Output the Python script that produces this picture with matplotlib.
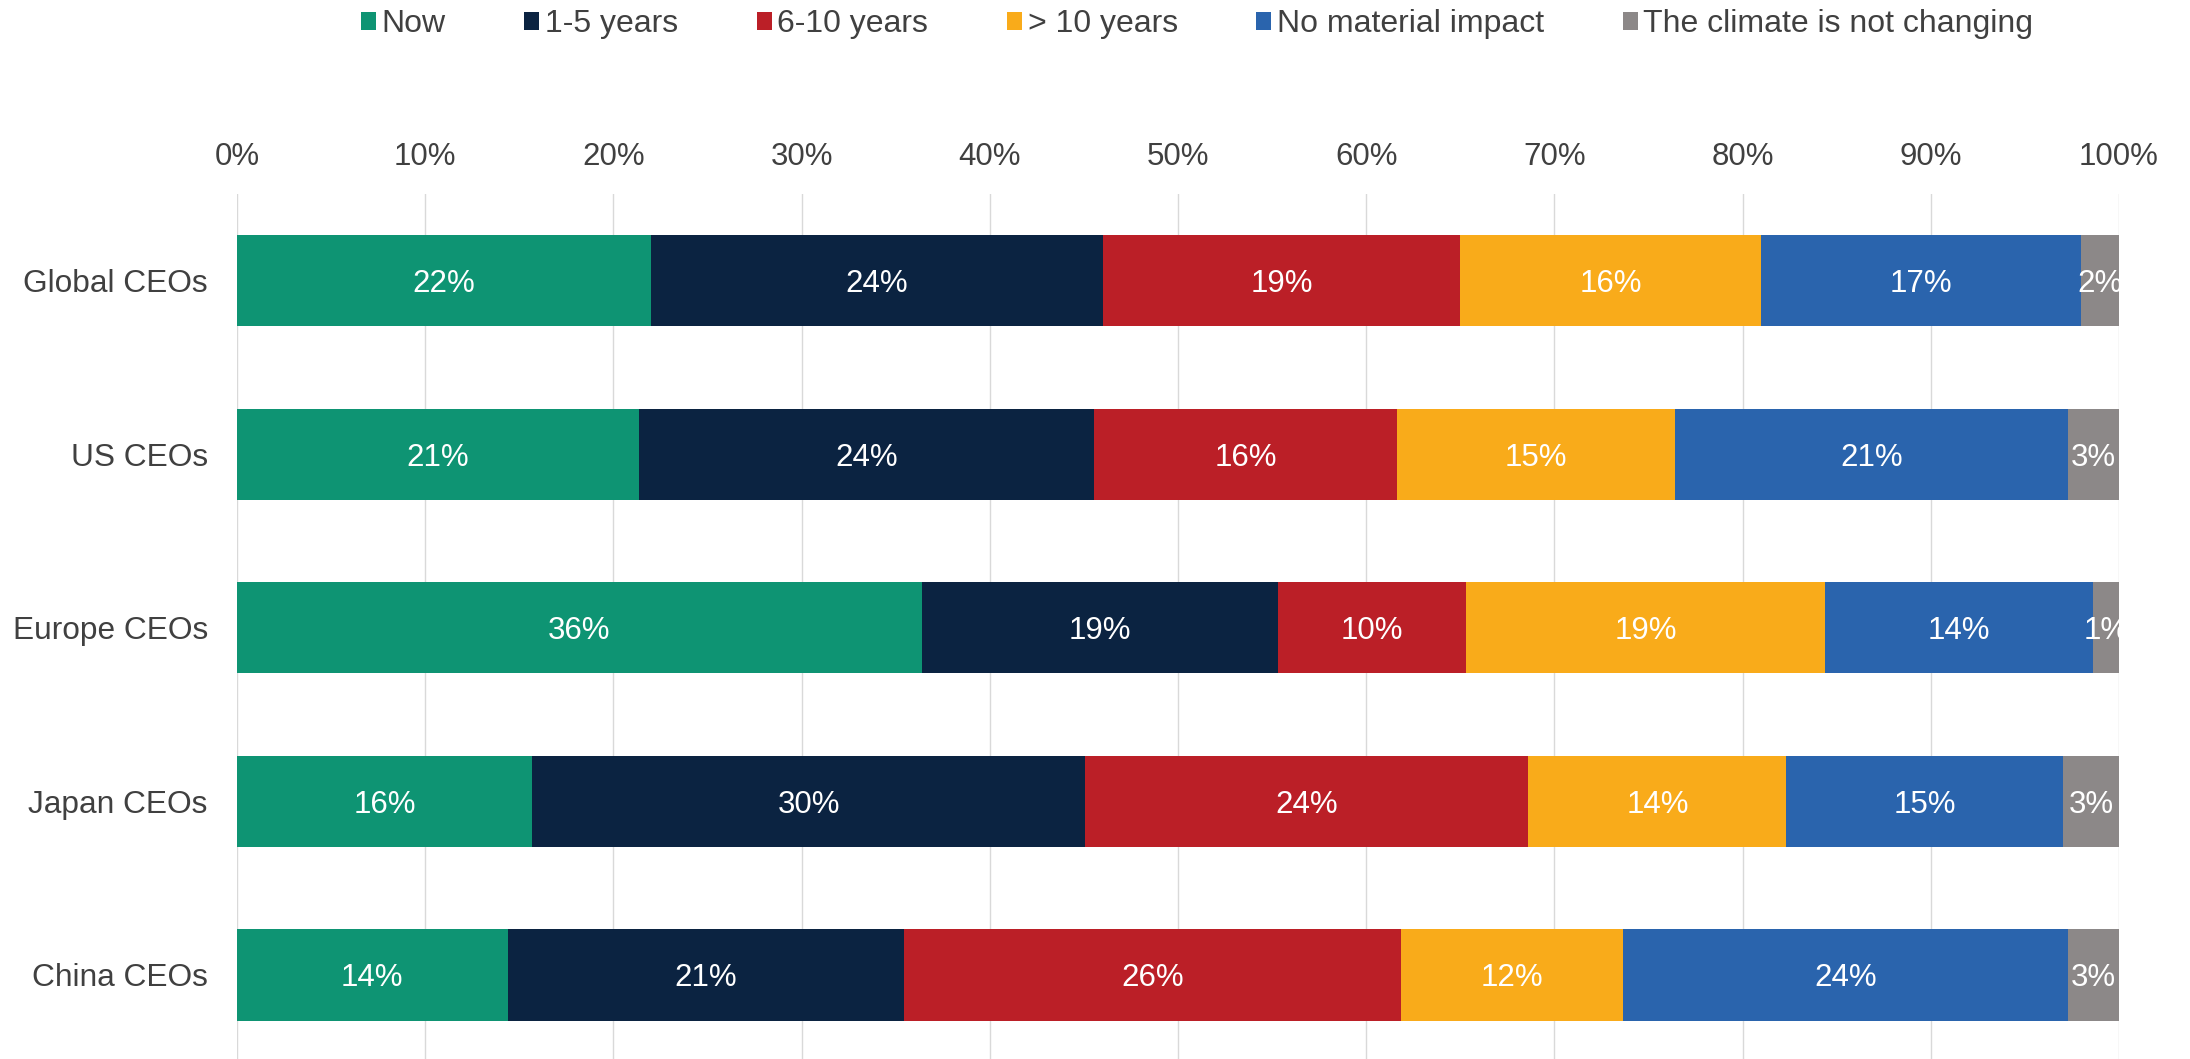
import matplotlib
matplotlib.use("Agg")
import matplotlib.pyplot as plt
from matplotlib.patches import Patch
import numpy as np

categories = ["Global CEOs", "US CEOs", "Europe CEOs", "Japan CEOs", "China CEOs"]
series_names = ["Now", "1-5 years", "6-10 years", "> 10 years",
                "No material impact", "The climate is not changing"]
# survey shares in percent (bars are normalised to 100%)
now = [22.0, 21.4, 36.4, 15.8, 14.4]
years_1_5 = [24.0, 24.2, 18.9, 29.6, 21.1]
years_6_10 = [19.0, 16.1, 10.0, 23.7, 26.4]
years_gt10 = [16.0, 14.8, 19.1, 13.8, 11.8]
no_impact = [17.0, 20.9, 14.2, 14.8, 23.7]
not_changing = [2.0, 2.7, 1.4, 3.0, 2.7]
tick_labels = ["0%", "10%", "20%", "30%", "40%", "50%", "60%", "70%", "80%", "90%", "100%"]

colors = ["#0E9473", "#0B2341", "#BB1F27", "#F9AB1A", "#2A64AD", "#8C8888"]

series = [now, years_1_5, years_6_10, years_gt10, no_impact, not_changing]
data = np.array(series, dtype=float)          # shape (6, 5)
totals = data.sum(axis=0)
shares = data / totals                        # 100% stacked

plt.rcParams["font.family"] = ["Liberation Sans", "DejaVu Sans"]
text_color = "#404040"
fs = 22.5

fig = plt.figure(figsize=(21.9, 10.59), dpi=100)
ax = fig.add_axes([0.1082, -0.0026, 0.8594, 0.8194])

y = np.arange(len(categories))
left = np.zeros(len(categories))
for i, name in enumerate(series_names):
    w = shares[i]
    bars = ax.barh(y, w, left=left, height=0.525, color=colors[i], label=name,
                   zorder=3, linewidth=0)
    for j, b in enumerate(bars):
        ax.text(left[j] + w[j] / 2, y[j], f"{data[i, j]:.0f}%",
                ha="center", va="center_baseline", color="white", fontsize=fs, zorder=4)
    left = left + w

ax.set_xlim(0, 1)
ax.set_ylim(len(categories) - 0.5, -0.5)
ax.set_yticks(y)
ax.set_yticklabels(categories)
ax.set_xticks(np.linspace(0, 1, len(tick_labels)))
ax.set_xticklabels(tick_labels)
ax.xaxis.tick_top()
ax.tick_params(axis="x", length=0, pad=16, labelsize=fs, labelcolor=text_color)
ax.tick_params(axis="y", length=0, pad=21, labelsize=22.8, labelcolor=text_color)
for s in ax.spines.values():
    s.set_visible(False)
ax.grid(axis="x", color="#D9D9D9", linewidth=1.0, zorder=0)
ax.set_axisbelow(True)

handles = [Patch(facecolor=c, edgecolor="none") for c in colors]
fig.legend(handles, series_names, loc="center", bbox_to_anchor=(0.5466, 0.977),
           ncol=6, frameon=False, fontsize=23, handlelength=0.47, handleheight=0.47,
           handletextpad=0.18, columnspacing=2.46, borderpad=0, labelcolor=text_color)

fig.savefig("out.png", dpi=100)
